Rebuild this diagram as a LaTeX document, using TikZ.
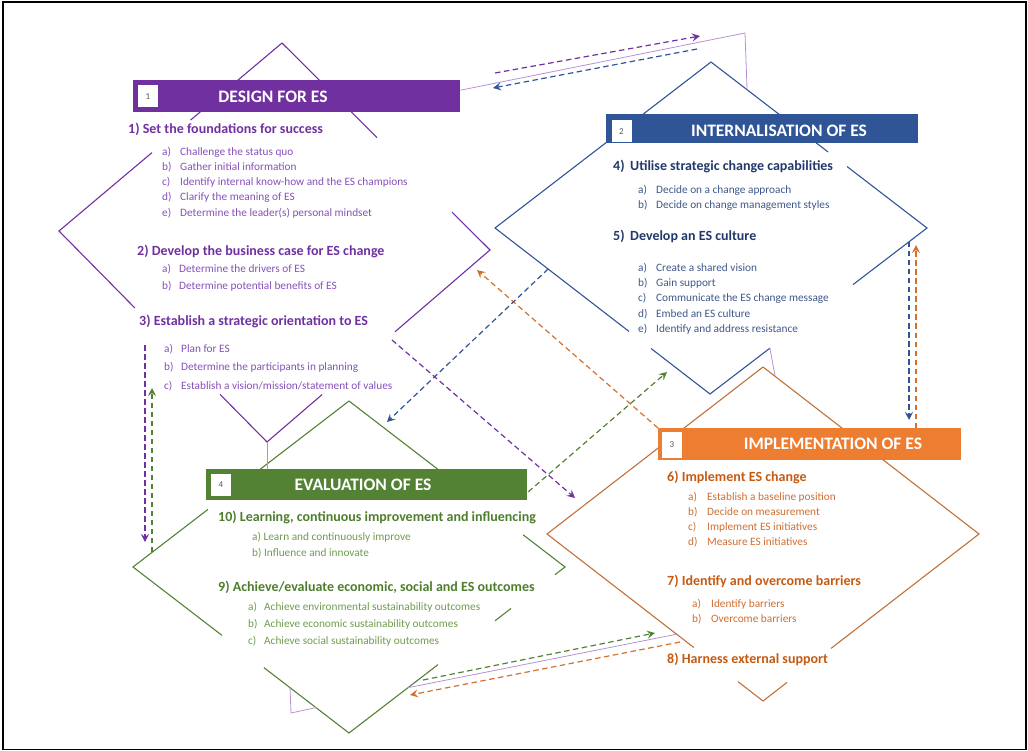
\documentclass[tikz,border=0pt]{standalone}
\usepackage{fontspec}
\setmainfont{Carlito}
\usetikzlibrary{arrows.meta, calc}
\definecolor{despurple}{HTML}{7030A0}
\definecolor{desitem}{HTML}{8650BA}
\definecolor{intblue}{HTML}{2F5597}
\definecolor{intnavy}{HTML}{22386A}
\definecolor{intitem}{HTML}{3E5889}
\definecolor{imporange}{HTML}{ED7D31}
\definecolor{imptext}{HTML}{C55A11}
\definecolor{impitem}{HTML}{CD6E32}
\definecolor{impline}{HTML}{C0713A}
\definecolor{evalgreen}{HTML}{548235}
\definecolor{evaltext}{HTML}{4E7D2E}
\definecolor{evalitem}{HTML}{6E9C4C}
\definecolor{lilac}{HTML}{B592D6}

\begin{document}
\begin{tikzpicture}[x=1pt, y=-1pt,
  bar/.style={anchor=north west, inner sep=0, minimum height=32},
  numbox/.style={fill=white, inner sep=0, minimum width=20, minimum height=22, text=black!65, font=\fontsize{9}{10}\selectfont},
  title/.style={text=white, inner sep=0, font=\fontsize{17.5}{20}\selectfont\bfseries},
  hdg/.style={anchor=west, inner sep=0, font=\fontsize{14}{16}\selectfont\bfseries},
  itm/.style={anchor=west, inner sep=0, font=\fontsize{11.3}{13}\selectfont},
  rim/.style={line width=1.1pt},
  ghost/.style={lilac, line width=0.8pt},
  flow/.style={line width=1.2pt, dash pattern=on 5.5pt off 3.5pt, -{Stealth[length=8pt, width=8pt, inset=3pt]}}]
  \useasboundingbox (0,0) rectangle (1028,751);
  \draw[line width=1.5pt] (3,2) rectangle (1026,749.5);

  % diamond corners
  \coordinate (dT) at (282,43);  \coordinate (dL) at (59,231);  \coordinate (dR) at (490,250);  \coordinate (dB) at (267,442);
  \coordinate (iT) at (711,62);  \coordinate (iL) at (495,228); \coordinate (iR) at (927,228); \coordinate (iB) at (710,394);
  \coordinate (mT) at (763,367); \coordinate (mL) at (547,534); \coordinate (mR) at (979,534); \coordinate (mB) at (763,701);
  \coordinate (eT) at (349,401); \coordinate (eL) at (133,567); \coordinate (eR) at (565,567); \coordinate (eB) at (349,733);

  % broken diamonds
  \draw[rim, despurple] (dT) -- ($(dT)!.41!(dL)$) ($(dT)!.583!(dL)$) -- (dL) -- ($(dL)!.365!(dB)$)
    ($(dL)!.774!(dB)$) -- (dB) -- ($(dB)!.247!(dR)$) ($(dB)!.574!(dR)$) -- (dR) -- ($(dR)!.183!(dT)$)
    ($(dR)!.543!(dT)$) -- (dT);
  \draw[rim, intblue] (iT) -- (iL) -- ($(iL)!.623!(iB)$) ($(iL)!.726!(iB)$) -- (iB) -- ($(iB)!.276!(iR)$)
    ($(iB)!.659!(iR)$) -- (iR) -- ($(iR)!.37!(iT)$) ($(iR)!.458!(iT)$) -- (iT);
  \draw[rim, impline] (mT) -- (mL) -- ($(mL)!.68!(mB)$) ($(mL)!.884!(mB)$) -- (mB) -- ($(mB)!.111!(mR)$)
    ($(mB)!.315!(mR)$) -- (mR) -- (mT);
  \draw[rim, evalgreen] (eT) -- ($(eT)!.45!(eL)$) ($(eT)!.653!(eL)$) -- (eL) -- ($(eL)!.412!(eB)$)
    ($(eL)!.606!(eB)$) -- (eB) -- ($(eB)!.412!(eR)$) ($(eB)!.676!(eR)$) -- ($(eB)!.75!(eR)$)
    ($(eB)!.954!(eR)$) -- (eR) -- ($(eR)!.194!(eT)$) ($(eR)!.588!(eT)$) -- (eT);

  % header bars
  \node[bar, fill=despurple, minimum width=327] (desbar) at (133,80) {};
  \node[bar, fill=intblue, minimum width=312, minimum height=29] (intbar) at (606,114) {};
  \node[bar, fill=imporange, minimum width=303] (impbar) at (658,428) {};
  \node[bar, fill=evalgreen, minimum width=321, minimum height=31] (evbar) at (206,469) {};
  \node[numbox] (desnum) at (148,96.5) {1};
  \node[numbox] (intnum) at (621.5,131.5) {2};
  \node[numbox, minimum height=26] (impnum) at (672,445) {3};
  \node[numbox] (evnum) at (221,485) {4};
  \node[title] (destitle) at (273,97) {DESIGN FOR ES};
  \node[title] (inttitle) at (779,131) {INTERNALISATION OF ES};
  \node[title] (imptitle) at (833,444) {IMPLEMENTATION OF ES};
  \node[title] (evtitle) at (363,485) {EVALUATION OF ES};

  % thin leftover links
  \draw[ghost] ($(desbar.east)+(0,-6)$) -- (745,33) -- ($(iR)!.833!(iT)$);
  \draw[ghost] (dB) -- (dB |- evbar.north);
  \draw[ghost] ($(iB)!.276!(iR)$) -- ($(mT)!.056!(mR)$);
  \draw[ghost] ($(eB)!.273!(eR)$) -- ($(mL)!.6!(mB)$);
  \draw[ghost] ($(eL)!.727!(eB)$) -- (291,713) -- ($(eL)!.847!(eB)$);

  % 1 design
  \node[hdg, text=despurple] (d1) at (128,129) {1) Set the foundations for success};
  \foreach \l/\t [count=\i from 0] in {a/Challenge the status quo, b/Gather initial information,
      c/Identify internal know-how and the ES champions, d/Clarify the meaning of ES,
      e/Determine the leader(s) personal mindset}
    \node[itm, text=desitem] (d1\l) at (162,152+15.2*\i) {\makebox[18pt][l]{\l)}\t};
  \node[hdg, text=despurple] (d2) at (137,251) {2) Develop the business case for ES change};
  \foreach \l/\t [count=\i from 0] in {a/Determine the drivers of ES, b/Determine potential benefits of ES}
    \node[itm, text=desitem] (d2\l) at (162,269+17*\i) {\makebox[17pt][l]{\l)}\t};
  \node[hdg, text=despurple] (d3) at (139,321) {3) Establish a strategic orientation to ES};
  \foreach \l/\t [count=\i from 0] in {a/Plan for ES, b/Determine the participants in planning,
      c/{Establish a vision/mission/statement of values}}
    \node[itm, text=desitem] (d3\l) at (164,349+18.5*\i) {\makebox[17pt][l]{\l)}\t};

  % 2 internalisation
  \node[hdg, text=intnavy] (i4) at (613,166) {\makebox[17pt][l]{4)}Utilise strategic change capabilities};
  \foreach \l/\t [count=\i from 0] in {a/Decide on a change approach, b/Decide on change management styles}
    \node[itm, text=intitem] (i4\l) at (638,190+15*\i) {\makebox[18pt][l]{\l)}\t};
  \node[hdg, text=intnavy] (i5) at (613,236) {\makebox[17pt][l]{5)}Develop an ES culture};
  \foreach \l/\t [count=\i from 0] in {a/Create a shared vision, b/Gain support,
      c/Communicate the ES change message, d/Embed an ES culture, e/Identify and address resistance}
    \node[itm, text=intitem] (i5\l) at (638,268+15.25*\i) {\makebox[18pt][l]{\l)}\t};

  % 3 implementation
  \node[hdg, text=imptext] (m6) at (667,477) {6) Implement ES change};
  \foreach \l/\t [count=\i from 0] in {a/Establish a baseline position, b/Decide on measurement,
      c/Implement ES initiatives, d/Measure ES initiatives}
    \node[itm, text=impitem] (m6\l) at (688,497+15*\i) {\makebox[19pt][l]{\l)}\t};
  \node[hdg, text=imptext] (m7) at (667,581) {7) Identify and overcome barriers};
  \foreach \l/\t [count=\i from 0] in {a/Identify barriers, b/Overcome barriers}
    \node[itm, text=impitem] (m7\l) at (692,604+15*\i) {\makebox[19pt][l]{\l)}\t};
  \node[hdg, text=imptext] (m8) at (667,659) {8) Harness external support};

  % 4 evaluation
  \node[hdg, text=evaltext] (e10) at (218,517) {10) Learning, continuous improvement and influencing};
  \foreach \l/\t [count=\i from 0] in {a/Learn and continuously improve, b/Influence and innovate}
    \node[itm, text=evalitem] (e10\l) at (252,537+16*\i) {\l) \t};
  \node[hdg, text=evaltext] (e9) at (218,587) {9) Achieve/evaluate economic, social and ES outcomes};
  \foreach \l/\t [count=\i from 0] in {a/Achieve environmental sustainability outcomes,
      b/Achieve economic sustainability outcomes, c/Achieve social sustainability outcomes}
    \node[itm, text=evalitem] (e9\l) at (248,607+17*\i) {\makebox[16pt][l]{\l)}\t};

  % dashed flows
  \coordinate (pa) at (495,73);  \coordinate (pb) at (700,36);
  \coordinate (ba) at (697,49);  \coordinate (bb) at (493,88);
  \coordinate (oa) at (477,270);
  \coordinate (bc) at (387,422);
  \coordinate (pc) at (392,340); \coordinate (pd) at (575,498);
  \coordinate (gc) at (667,372);
  \coordinate (bv) at (909,242); \coordinate (bw) at (909,420);
  \coordinate (ov) at (916,428); \coordinate (ow) at (916,245);
  \coordinate (pv) at (145,345); \coordinate (pw) at (145,542);
  \coordinate (gv) at (152,552); \coordinate (gw) at (152,388);
  \coordinate (ga) at (423,680); \coordinate (gb) at (655,633);
  \coordinate (oc) at (680,642); \coordinate (od) at (410,695);
  \draw[flow, despurple] (pa) -- (pb);
  \draw[flow, intblue] (ba) -- (bb);
  \draw[flow, imporange!90!black] (impbar.north west) -- (oa);
  \draw[flow, intblue] ($(iL)!.247!(iB)$) -- (bc);
  \draw[flow, despurple] (pc) -- (pd);
  \draw[flow, evalgreen] ($(evbar.east)+(1,7)$) -- (gc);
  \draw[flow, intblue] (bv) -- (bw);
  \draw[flow, imporange!90!black] (ov) -- (ow);
  \draw[flow, despurple, line width=1.6pt] (pv) -- (pw);
  \draw[flow, evalgreen] (gv) -- (gw);
  \draw[flow, evalgreen] (ga) -- (gb);
  \draw[flow, imporange!90!black] (oc) -- (od);
\end{tikzpicture}
\end{document}
